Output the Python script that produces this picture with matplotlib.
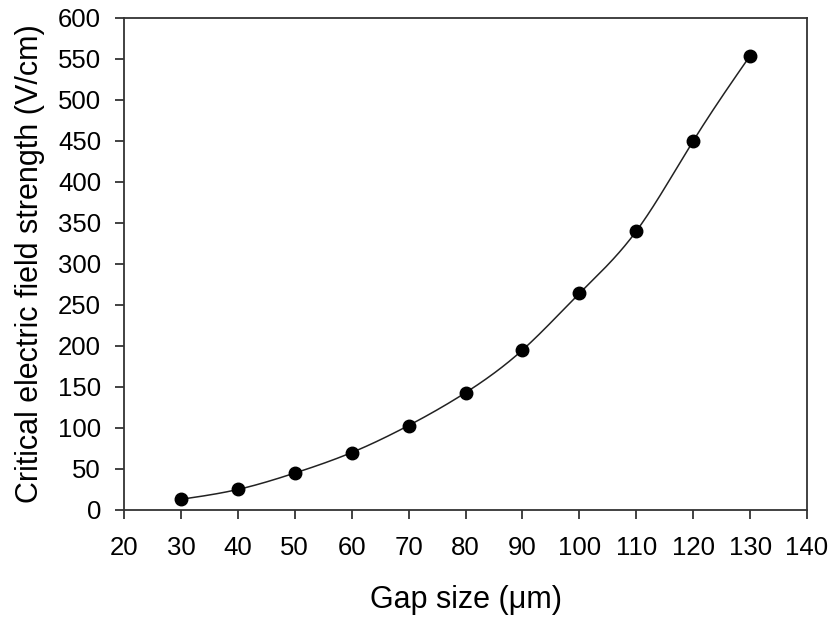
import numpy as np
import matplotlib
matplotlib.use("Agg")
import matplotlib.pyplot as plt

plt.rcParams['font.family'] = ['Liberation Sans', 'DejaVu Sans']

# Measured data
gap_um = [30, 40, 50, 60, 70, 80, 90, 100, 110, 120, 130]
field_v_cm = [13, 25, 45, 70, 103, 143, 195, 264, 340, 450, 554]

x_ticks = [20, 30, 40, 50, 60, 70, 80, 90, 100, 110, 120, 130, 140]
y_ticks = [0, 50, 100, 150, 200, 250, 300, 350, 400, 450, 500, 550, 600]


def natural_cubic_spline(x, y, xs):
    """Evaluate a natural cubic spline through (x, y) at xs."""
    x = np.asarray(x, float)
    y = np.asarray(y, float)
    n = len(x)
    h = np.diff(x)
    A = np.zeros((n, n))
    b = np.zeros(n)
    A[0, 0] = A[-1, -1] = 1.0
    for i in range(1, n - 1):
        A[i, i - 1] = h[i - 1]
        A[i, i] = 2 * (h[i - 1] + h[i])
        A[i, i + 1] = h[i]
        b[i] = 3 * ((y[i + 1] - y[i]) / h[i] - (y[i] - y[i - 1]) / h[i - 1])
    c = np.linalg.solve(A, b)
    bcoef = (np.diff(y) / h) - h * (2 * c[:-1] + c[1:]) / 3
    d = np.diff(c) / (3 * h)
    idx = np.clip(np.searchsorted(x, xs) - 1, 0, n - 2)
    dx = xs - x[idx]
    return y[idx] + bcoef[idx] * dx + c[idx] * dx ** 2 + d[idx] * dx ** 3


fig = plt.figure(figsize=(8.32, 6.18), dpi=100)
ax = fig.add_axes([0.149, 0.1748, 0.821, 0.7961])

xs = np.linspace(gap_um[0], gap_um[-1], 400)
ax.plot(xs, natural_cubic_spline(gap_um, field_v_cm, xs), color='#222222', lw=1.1)
ax.plot(gap_um, field_v_cm, 'o', color='black', ms=9)

ax.set_xlim(20, 140)
ax.set_ylim(0, 600)
ax.set_xticks(x_ticks)
ax.set_yticks(y_ticks)

for s in ax.spines.values():
    s.set_linewidth(1.3)
    s.set_color('#333333')

ax.tick_params(axis='both', direction='out', length=6.5, width=1.3,
               color='#333333', labelsize=18.5, labelcolor='black')
ax.tick_params(axis='y', pad=10)
ax.tick_params(axis='x', pad=12)
ax.tick_params(top=False, right=False)

ax.set_xlabel('Gap size (\u03bcm)', fontsize=22, labelpad=18)
ax.set_ylabel('Critical electric field strength (V/cm)', fontsize=22, labelpad=9)

fig.savefig('out.png', dpi=100)
